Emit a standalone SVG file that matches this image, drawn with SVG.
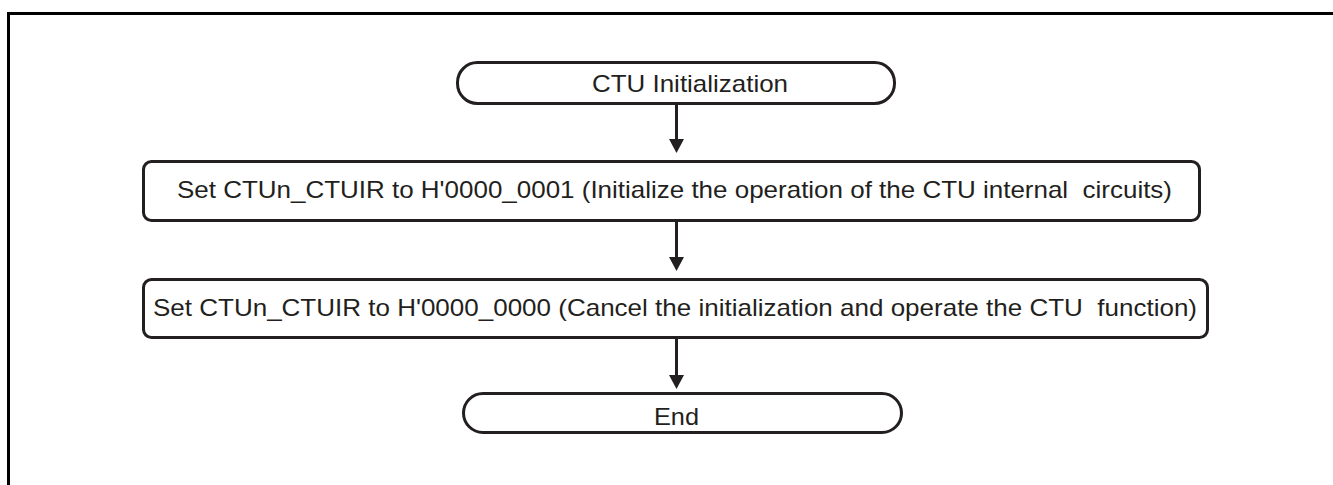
<svg xmlns="http://www.w3.org/2000/svg" width="1333" height="485" viewBox="0 0 1333 485">
<style>
.frame{fill:none;stroke:#000;stroke-width:3}
.node{fill:#fff;stroke:#231f20;stroke-width:3}
.conn{stroke:#231f20;stroke-width:3;fill:none}
.head{fill:#231f20}
.lbl{font-family:"Liberation Sans",Arial,sans-serif;font-size:24px;fill:#231f20;white-space:pre}
</style>
<rect x="0" y="0" width="1333" height="485" fill="#fff"/>
<path class="frame" d="M8.5,490 V13.5 H1340"/>
<g id="connectors">
<line class="conn" x1="676.5" y1="103" x2="676.5" y2="139" />
<path class="head" d="M669,139 L684,139 L676.5,153 Z"/>
<line class="conn" x1="676.5" y1="221" x2="676.5" y2="257" />
<path class="head" d="M669,257 L684,257 L676.5,271 Z"/>
<line class="conn" x1="676.5" y1="338" x2="676.5" y2="375" />
<path class="head" d="M669,375 L684,375 L676.5,389 Z"/>
</g>
<g id="start">
<rect class="node" x="457.5" y="62.5" width="437" height="41" rx="20" ry="20"/>
<text class="lbl" x="592" y="92" textLength="196" lengthAdjust="spacingAndGlyphs">CTU Initialization</text>
</g>
<g id="step1">
<rect class="node" x="143.5" y="161.5" width="1056" height="59" rx="8" ry="8"/>
<text class="lbl" x="177" y="198" textLength="995" lengthAdjust="spacingAndGlyphs">Set CTUn_CTUIR to H'0000_0001 (Initialize the operation of the CTU internal  circuits)</text>
</g>
<g id="step2">
<rect class="node" x="143.5" y="279.5" width="1064" height="58" rx="8" ry="8"/>
<text class="lbl" x="153" y="316" textLength="1044" lengthAdjust="spacingAndGlyphs">Set CTUn_CTUIR to H'0000_0000 (Cancel the initialization and operate the CTU  function)</text>
</g>
<g id="end">
<rect class="node" x="463.5" y="393.5" width="438" height="39" rx="19.5" ry="19.5"/>
<text class="lbl" x="654" y="425" textLength="45" lengthAdjust="spacingAndGlyphs">End</text>
</g>
</svg>
